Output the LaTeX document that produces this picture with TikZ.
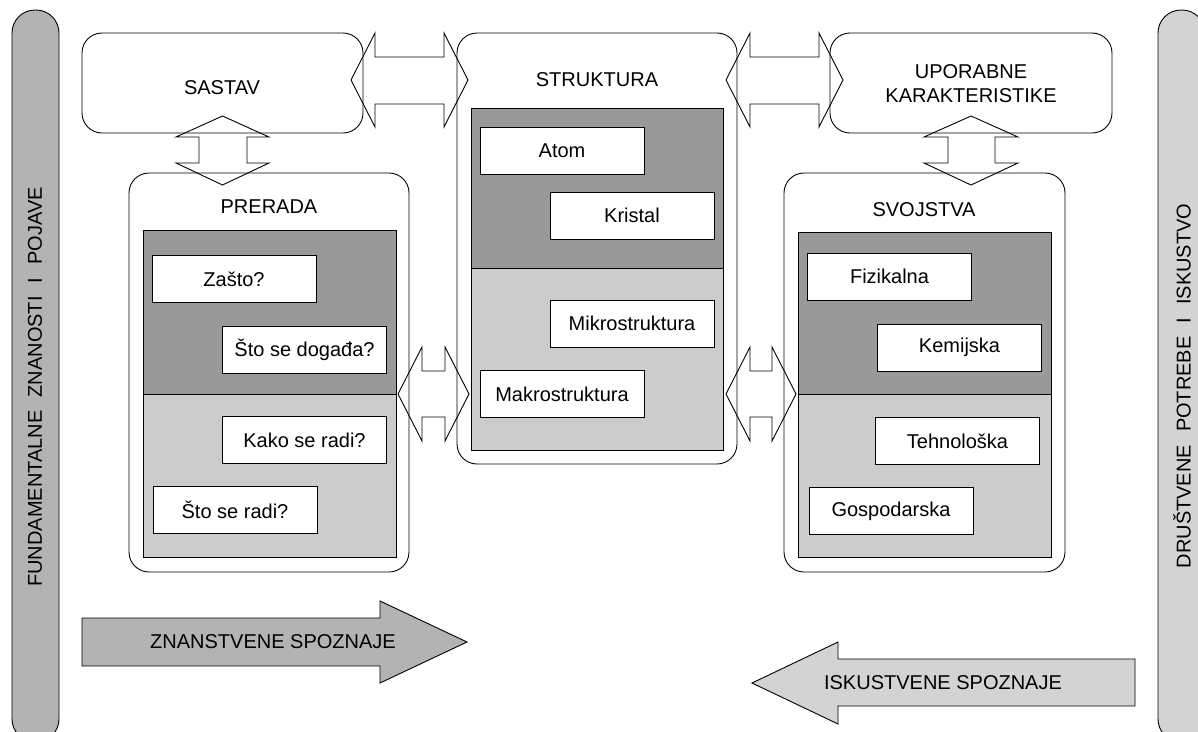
\documentclass[tikz,border=0pt]{standalone}
\usepackage{fontspec}
\setmainfont{Liberation Sans}
\definecolor{darkgr}{HTML}{999999}
\definecolor{lightgr}{HTML}{CCCCCC}
\definecolor{barleft}{HTML}{B3B3B3}
\definecolor{barright}{HTML}{D3D3D3}

\begin{document}
\begin{tikzpicture}[x=1pt,y=-1pt,line width=0.9pt,
  font=\fontsize{20}{24}\selectfont,
  outer/.style={draw,rounded corners=20pt,inner sep=0pt},
  item/.style={draw,fill=white,minimum width=164pt,minimum height=47pt,inner sep=0pt},
  bigarrow/.style={draw,fill=white,line join=miter},
  flow/.style={draw,line join=miter}]

\useasboundingbox (0,0) rectangle (1198,731);
\clip (0,0) rectangle (1198,731);

% side bars
\draw [fill=barleft, rounded corners=23pt] (12,10) rectangle (59,742);
\draw [fill=barright, rounded corners=23pt] (1158,10) rectangle (1205,742);
\node [rotate=90] (fund) at (35,387) {FUNDAMENTALNE\hspace{13pt}ZNANOSTI\hspace{13pt}I\hspace{13pt}POJAVE};
\node [rotate=90] (drus) at (1182,386) {DRUŠTVENE\hspace{13pt}POTREBE\hspace{13pt}I\hspace{13pt}ISKUSTVO};

% double arrows
\draw [bigarrow] (351,80) -- (375,33) -- (375,57) -- (444,57) -- (444,33) -- (468,80) -- (444,127) -- (444,104) -- (375,104) -- (375,127) -- cycle;
\draw [bigarrow] (726,80) -- (750,33) -- (750,57) -- (819,57) -- (819,33) -- (843,80) -- (819,127) -- (819,104) -- (750,104) -- (750,127) -- cycle;
\draw [bigarrow] (398,394) -- (422,347) -- (422,371) -- (445,371) -- (445,347) -- (469,394) -- (445,441) -- (445,417) -- (422,417) -- (422,441) -- cycle;
\draw [bigarrow] (726,394) -- (750,347) -- (750,371) -- (772,371) -- (772,347) -- (796,394) -- (772,441) -- (772,417) -- (750,417) -- (750,441) -- cycle;
\draw [bigarrow] (222.5,116) -- (269,137) -- (247,137) -- (247,163) -- (269,163) -- (222.5,185) -- (176,163) -- (199,163) -- (199,137) -- (176,137) -- cycle;
\draw [bigarrow] (971,116) -- (1018,137) -- (995,137) -- (995,163) -- (1018,163) -- (971,185) -- (924,163) -- (948,163) -- (948,137) -- (924,137) -- cycle;

% outer boxes
\node [outer, minimum width=281pt, minimum height=100pt] (sastav) at (222.5,83) {};
\node [outer, minimum width=280pt, minimum height=431pt] (struktura) at (597,248.5) {};
\node [outer, minimum width=282pt, minimum height=100pt] (uporabne) at (971,83) {};
\node [outer, minimum width=280pt, minimum height=399pt] (prerada) at (269,372.5) {};
\node [outer, minimum width=281pt, minimum height=399pt] (svojstva) at (924.5,372.5) {};

\node (sastavt) at (222,88) {SASTAV};
\node (strukturat) at (597,80) {STRUKTURA};
\node [align=center] (uporabnet) at (971,84) {UPORABNE\\KARAKTERISTIKE};
\node (preradat) at (269,207) {PRERADA};
\node (svojstvat) at (924,210) {SVOJSTVA};

% grey fields
\draw [fill=darkgr] (471,108) rectangle (723,268);
\draw [fill=lightgr] (471,268) rectangle (723,450);
\draw [fill=darkgr] (143,230) rectangle (396,394);
\draw [fill=lightgr] (143,394) rectangle (396,557);
\draw [fill=darkgr] (798,232) rectangle (1051,394);
\draw [fill=lightgr] (798,394) rectangle (1051,557);

% items
\node [item] (atom) at (562,150.5) {Atom};
\node [item] (kristal) at (632,215.5) {Kristal};
\node [item] (mikro) at (632,323.5) {Mikrostruktura};
\node [item] (makro) at (562,394) {Makrostruktura};

\node [item] (zasto) at (234,279) {Zašto?};
\node [item] (dogadja) at (304.5,349.5) {Što se događa?};
\node [item] (kako) at (304.5,440) {Kako se radi?};
\node [item] (radi) at (235,510) {Što se radi?};

\node [item] (fiz) at (889.5,276.5) {Fizikalna};
\node [item] (kem) at (959.5,347.5) {Kemijska};
\node [item] (teh) at (957.5,441) {Tehnološka};
\node [item] (gosp) at (891,511) {Gospodarska};

% bottom arrows
\draw [flow, fill=barleft] (82,618) -- (380,618) -- (380,601) -- (467,642) -- (380,683) -- (380,666) -- (82,666) -- cycle;
\draw [flow, fill=barright] (752,683) -- (838,642) -- (838,659) -- (1135,659) -- (1135,706) -- (838,706) -- (838,724) -- cycle;
\node (znan) at (273,642) {ZNANSTVENE SPOZNAJE};
\node (isku) at (943,683) {ISKUSTVENE SPOZNAJE};

\end{tikzpicture}
\end{document}
